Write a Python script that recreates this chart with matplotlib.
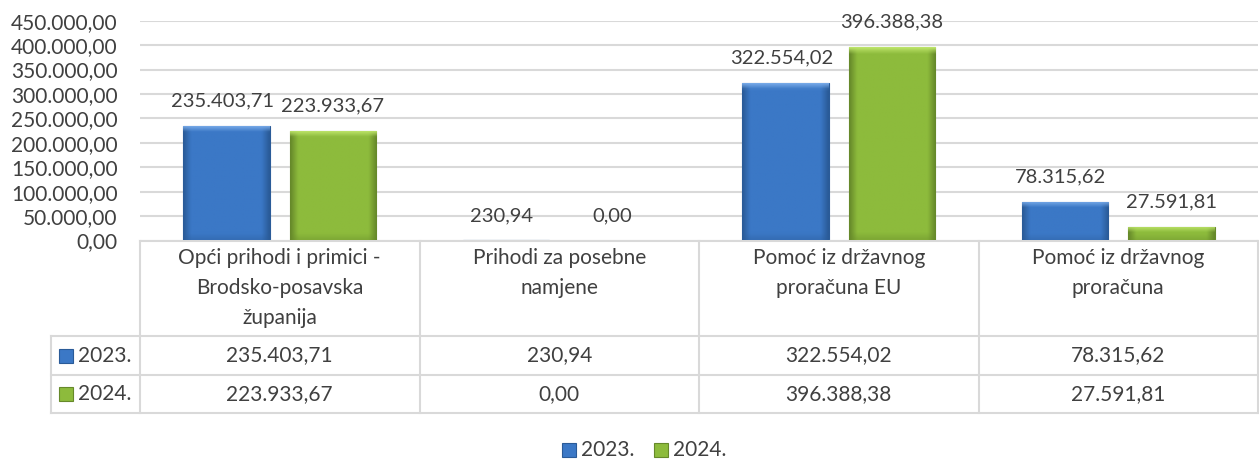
import numpy as np
import matplotlib
matplotlib.use("Agg")
import matplotlib.pyplot as plt
import matplotlib.transforms as mtransforms
from matplotlib.patches import Rectangle
from matplotlib.colors import to_rgb

categories = ["Opći prihodi i primici -\nBrodsko-posavska\nžupanija",
              "Prihodi za posebne\nnamjene",
              "Pomoć iz državnog\nproračuna EU",
              "Pomoć iz državnog\nproračuna"]
series_names = ["2023.", "2024."]
values_2023 = [235403.71, 230.94, 322554.02, 78315.62]
values_2024 = [223933.67, 0.00, 396388.38, 27591.81]
yticks = [0, 50000, 100000, 150000, 200000, 250000, 300000, 350000, 400000, 450000]

W, H = 1259, 459
plt.rcParams['font.family'] = ['Lato', 'DejaVu Sans']
TXT = '#404040'
GRID = '#d9d9d9'
FS = 15
FS_LBL = 14.5

def fmt(v):
    s = f"{v:,.2f}"
    return s.replace(",", "X").replace(".", ",").replace("X", ".")

fig = plt.figure(figsize=(W / 100, H / 100), dpi=100)
L, R, B, T = 140, 1258, 240.5, 20.7
ax = fig.add_axes([L / W, 1 - B / H, (R - L) / W, (B - T) / H])

x = np.arange(len(categories))
bw = 0.31
off = 0.19
colors = {
    "2023.": ('#3b78c6', '#2a5b98', '#78aae8'),
    "2024.": ('#8dbb3c', '#66892a', '#bde46a'),
}

def gradient_bar(bar, c_mid, c_edge, c_top):
    bx, by = bar.get_x(), bar.get_y()
    bwid, bh = bar.get_width(), bar.get_height()
    if bh <= 0:
        return
    mid = np.array(to_rgb(c_mid)); edge = np.array(to_rgb(c_edge)); top = np.array(to_rgb(c_top))
    nx, ny = 60, 60
    tx = np.linspace(-1, 1, nx)
    wx = np.clip((np.abs(tx) - 0.82) / 0.18, 0, 1)[None, :, None]
    img = mid[None, None, :] * (1 - wx) + edge[None, None, :] * wx
    img = np.repeat(img, ny, axis=0)
    px_per_unit = (B - T) / 450000.0
    hpx = bh * px_per_unit
    bev = min(6.0 / max(hpx, 1e-6), 0.5)
    ty = np.linspace(1, 0, ny)
    wy = np.clip((ty - (1 - bev)) / bev, 0, 1)[:, None, None]
    img = img * (1 - wy) + top[None, None, :] * wy
    wb = np.clip((bev - ty) / bev, 0, 1)[:, None, None] * 0.35
    img = img * (1 - wb) + edge[None, None, :] * wb
    im = ax.imshow(img, extent=[bx, bx + bwid, by, by + bh], aspect='auto',
                   zorder=3, interpolation='bilinear')
    im.set_clip_path(bar)

for vals, name, sgn in [(values_2023, "2023.", -1), (values_2024, "2024.", 1)]:
    c_mid, c_edge, c_top = colors[name]
    bars = ax.bar(x + sgn * off, vals, width=bw, color=c_mid, edgecolor=c_edge,
                  linewidth=0.8, zorder=2)
    for b, v in zip(bars, vals):
        gradient_bar(b, c_mid, c_edge, c_top)
        ax.annotate(fmt(v), (b.get_x() + b.get_width() / 2, v), xytext=(-3 if sgn < 0 else 0, 18),
                    textcoords='offset points', ha='center', va='center',
                    fontsize=FS_LBL, color=TXT, zorder=5)

ax.set_xlim(-0.5, len(categories) - 0.5)
ax.set_ylim(0, 450000)
ax.set_yticks(yticks)
ax.set_yticklabels([fmt(v) for v in yticks], fontsize=FS, color=TXT)
ax.tick_params(axis='y', length=0, pad=16)
ax.set_xticks([])
for s in ['top', 'right', 'left']:
    ax.spines[s].set_visible(False)
ax.spines['bottom'].set_color(GRID)
ax.spines['bottom'].set_linewidth(1.5)
ax.yaxis.grid(True, color=GRID, linewidth=1.5, zorder=0)
ax.set_axisbelow(True)

bt = mtransforms.blended_transform_factory(ax.transData, fig.transFigure)
def fy(py):
    return 1 - py / H
def fx(px):
    return px / W

row_tops = [240.5, 336, 374.5, 413]
for py in row_tops[1:]:
    fig.add_artist(plt.Line2D([fx(51), fx(1258)], [fy(py), fy(py)], color=GRID, lw=1.5))
fig.add_artist(plt.Line2D([fx(51), fx(51)], [fy(336), fy(413)], color=GRID, lw=1.5))
for xb in np.arange(len(categories) + 1) - 0.5:
    fig.add_artist(plt.Line2D([xb, xb], [fy(240.5), fy(413)], color=GRID, lw=1.5, transform=bt))

for i, cat in enumerate(categories):
    fig.text(i, fy(248.5), cat, transform=bt, ha='center', va='top', fontsize=FS,
             color=TXT, linespacing=1.6)
    fig.text(i, fy(355.5), fmt(values_2023[i]), transform=bt, ha='center', va='center',
             fontsize=FS, color=TXT)
    fig.text(i, fy(394), fmt(values_2024[i]), transform=bt, ha='center', va='center',
             fontsize=FS, color=TXT)

def key(px, py, name):
    c_mid, c_edge, c_top = colors[name]
    fig.add_artist(Rectangle((fx(px), fy(py + 7)), 14 / W, 14 / H, transform=fig.transFigure,
                             facecolor=c_mid, edgecolor=c_edge, lw=0.8))

for name, py in [("2023.", 355.5), ("2024.", 394)]:
    key(59, py, name)
    fig.text(fx(78), fy(py), name, ha='left', va='center', fontsize=FS, color=TXT)

for name, px in [("2023.", 562), ("2024.", 654)]:
    key(px, 450, name)
    fig.text(fx(px + 19), fy(450), name, ha='left', va='center', fontsize=FS, color=TXT)

fig.savefig("out.png", dpi=100)
